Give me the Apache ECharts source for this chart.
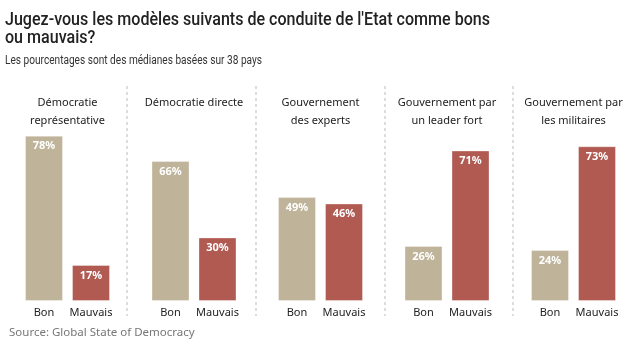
<!DOCTYPE html>
<html><head><meta charset="utf-8">
<script src="https://cdn.jsdelivr.net/npm/echarts@6/dist/echarts.min.js"></script>
<style>html,body{margin:0;padding:0;background:#fff}#c{width:640px;height:345px}</style>
</head><body><div id="c"></div>
<script>
const titleLines = ["Jugez-vous les modèles suivants de conduite de l'Etat comme bons", 'ou mauvais?'];
const subtitle = 'Les pourcentages sont des médianes basées sur 38 pays';
const source = 'Source: Global State of Democracy';
const panels = ['Démocratie\nreprésentative','Démocratie directe','Gouvernement\ndes experts','Gouvernement par\nun leader fort','Gouvernement par\nles militaires'];
const categories = ['Bon','Mauvais'];
const bonValues = [78, 66, 49, 26, 24];
const mauvaisValues = [17, 30, 46, 71, 73];
const colors = ['#bfb399', '#b05a52'];
const FONT = '"Noto Sans", sans-serif';
const TFONT = 'Roboto, "Noto Sans", sans-serif';

const ctx = document.createElement('canvas').getContext('2d');
function fitScale(text, font, target) {
  ctx.font = font;
  const w = ctx.measureText(text).width;
  return Math.min(1, target / w);
}
const tFont = '500 19px ' + TFONT;
const sFont = '12.5px ' + TFONT;
const tScale = fitScale(titleLines[0], tFont, 485);
const sScale = fitScale(subtitle, sFont, 257);

const chart = echarts.init(document.getElementById('c'), null, {renderer:'canvas'});
const grids = [], xAxes = [], yAxes = [], series = [], graphics = [];
graphics.push({type:'text', x:5, y:20.5, scaleX:tScale, style:{text:titleLines[0], font:tFont, fill:'#222', textVerticalAlign:'middle'}});
graphics.push({type:'text', x:5, y:38.5, scaleX:tScale, style:{text:titleLines[1], font:tFont, fill:'#222', textVerticalAlign:'middle'}});
graphics.push({type:'text', x:5, y:61, scaleX:sScale, style:{text:subtitle, font:sFont, fill:'#333', textVerticalAlign:'middle'}});
graphics.push({type:'text', x:9, y:333, style:{text:source, font:'11.5px ' + FONT, fill:'#777', textVerticalAlign:'middle'}});
panels.forEach((p, i) => {
  const cx = 67.5 + 126.5 * i;
  grids.push({left: cx - 47, width: 94, top: 89, height: 212});
  xAxes.push({type:'category', gridIndex:i, data:categories,
    axisLine:{show:false}, axisTick:{show:false},
    axisLabel:{interval:0, fontFamily:FONT, fontSize:11, color:'#222', margin:6}});
  yAxes.push({type:'value', gridIndex:i, min:0, max:100, show:false});
  series.push({type:'bar', xAxisIndex:i, yAxisIndex:i, barWidth:38,
    data:[{value:bonValues[i], itemStyle:{color:colors[0]}},{value:mauvaisValues[i], itemStyle:{color:colors[1]}}],
    label:{show:true, position:'insideTop', distance:5, formatter:'{c}%', color:'#fff', fontFamily:FONT, fontSize:11, fontWeight:'bold'},
    itemStyle:{borderColor:'rgba(255,255,255,0.35)', borderWidth:1},
    animation:false});
  graphics.push({type:'text', x:cx, y:94,
    style:{text:p, textAlign:'center', textVerticalAlign:'top', fill:'#222',
      font:'11px "Noto Sans", sans-serif', lineHeight:18}});
});
[127, 256, 385, 513].forEach(x => {
  graphics.push({type:'line', shape:{x1:x, y1:86, x2:x, y2:316}, style:{stroke:'#bbb', lineWidth:1, lineDash:[3,3]}});
});
chart.setOption({animation:false, grid:grids, xAxis:xAxes, yAxis:yAxes, series:series, graphic:graphics});
</script></body></html>
